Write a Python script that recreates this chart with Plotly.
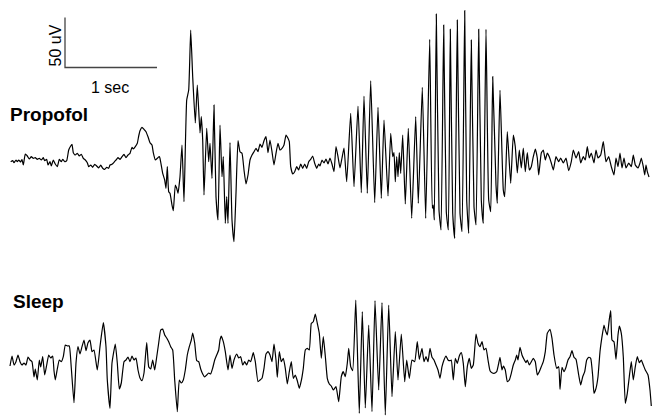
import plotly.graph_objects as go

FS = 92  # samples per second (sample index along the time axis)

# ---- Propofol trace: sample index and amplitude (uV) ----
propofol_t = [10.7, 12.7, 14, 16, 17.3, 18.7, 20.7, 22, 23.3, 25.3, 27.3, 29.3, 31.3, 33.3, 35.3, 37.3, 39.3, 41.3, 43.3, 44.7,
              46.7, 48, 50, 51.3, 53.3, 55.3, 57.3, 59.3, 61.3, 62.7, 64.7, 66.7, 68.7, 70.7, 72, 73.3, 75.3, 77.3, 79.3, 81.3,
              83.3, 85.3, 87.3, 88.7, 90.7, 92.7, 94.7, 96.7, 98.7, 100.7, 102.7, 104.7, 106.7, 108.7, 110, 112, 114, 116, 118, 120,
              122, 124, 126, 128, 130, 132, 133.3, 135.3, 137.3, 138.7, 140, 142, 144, 146, 148, 150, 152, 153.3, 155.3, 157.3,
              159.3, 160, 162.7, 164.7, 166, 167.3, 168.7, 170, 172, 173.3, 175.3, 176.7, 178, 180, 182, 184, 186.7, 188.7, 190.7, 192.7,
              195.3, 197.3, 200, 201.3, 202.7, 204, 206.7, 208.7, 210, 212, 214, 216, 218, 220, 222, 223.3, 225.3, 226.7, 228, 230,
              232, 234, 236, 238, 240, 242, 244, 246, 248, 250, 252, 254, 256, 258, 260, 262, 264, 266, 268, 270,
              272, 274, 276, 278, 280, 282, 284, 286, 288, 289.3, 290.7, 292.7, 294.7, 296.7, 298.7, 300.7, 302.7, 304.7, 306.7, 308.7,
              310.7, 312.7, 314.7, 316.7, 318.7, 320, 322, 324, 326, 328, 330, 332, 334, 336, 338, 340, 342, 344, 346.7, 350.7,
              354, 358, 361.3, 364, 367.3, 370.7, 374.7, 378, 381.3, 384, 388, 390.7, 392.7, 394, 395.3, 396.7, 398, 399.3, 400.7, 402.7,
              405.3, 408.3, 411.7, 415.7, 418.3, 422.3, 425.7, 429.7, 432.3, 433.3, 434.3, 436.3, 439, 441, 443.7, 446.3, 448.3, 450.3, 452.7, 454.7,
              457.3, 460, 462, 464.7, 466.7, 468.7, 471.3, 474, 476, 478.7, 481.3, 483.3, 486, 488.7, 490.7, 492.7, 496, 497.3, 500, 503.3,
              504.7, 507.3, 510.7, 513.3, 515.3, 517.3, 519.3, 521.3, 523.3, 525.3, 527.3, 529.3, 531.3, 533.3, 535.3, 537.3, 538.7, 541.3, 543.3, 545.3,
              547.3, 549.3, 551.3, 553.3, 556, 558.7, 560.7, 563.3, 566, 568.7, 571.3, 573.3, 576, 578.7, 580.7, 583.3, 585.3, 587.3, 589.3, 591.3,
              594, 596, 598, 600.7, 603.3, 606, 608.7, 611.3, 614, 616, 618, 620, 622, 624, 626, 628.7, 631.3, 633.3, 635.3, 638,
              640, 641.3, 643.3, 644.7, 646, 647.3, 649]
propofol_uv = [1.3, 2.3, 0.3, 3, 1.3, 3, 1, 3.7, -2, 9, 7, 4, 6.3, 4.7, 5.3, 3.7, 4.7, 3, 5.3, 2.3,
               3.7, -2, 1.3, -3, 3, -1, -3.7, 3.7, 1.3, 3.7, 1.3, 2.3, 13, 17, 18.7, 10.3, 8, 9.7, 7, 8.7,
               4.7, 3, 0.3, -3.7, -2, -4.3, -1.3, -3, -5, -2, -5.3, -6.3, -4.3, -5.3, -2, -1.3, 0.7, 3, 5.3, 3.7,
               6.3, 8.7, 5.3, 8, 9.7, 15.7, 14, 16.3, 19.7, 27, 32.3, 35.7, 33.7, 31.3, 26.3, 20.3, 18, 10.3, 3, 4.7,
               6.3, 4.7, -10.3, -17, -25.3, -3.7, -28.7, -30.3, -42, -47.7, -22, -25.3, -30.3, -13.7, 18, -38.7, 63, 73, 133, 86.3,
               40, 78, 30, 46.3, 23, -32, 34.7, 1.3, 19.7, -15.3, 58, -33.7, -57, 38, -13.7, 6.3, -60.3, -33.7, -60.3, 20.3,
               -57, -78.7, -30.3, 22.3, 11.3, 9.7, -7, -21, -12, 3, 8, 11.3, 14.7, 11.3, 19, 15.7, 22.3, 26.3, 10.3, 23,
               11.3, -2, 9.7, 19.7, 13, 14.7, 18, 28, 24.7, 21.3, -3.7, -11, -8.7, -3.7, -7, -1, -5.3, -1, -5.3, 1.3,
               3.7, 7, -0.3, -5.3, -1, -3, 3, 0, 4, -1, 5, -1, -8.7, 16.3, 6.3, -5, 5, 15, -18.7, 49.7,
               -23.7, 57, -29.7, 67, -30.3, 82.3, -39.7, 55.7, -35.3, 43, -33, 29.7, 6.3, 10.3, -18.7, 6.3, -13.7, 10.3, -10.3, 28,
               -41, 34.7, -55.3, 46.3, -40.3, 75.7, -55.3, 123.7, -45.3, -42, -57, 149, -47, -67, 138, -48.7, -67, 133.7, -50.3, -75.3,
               143, -50.3, -68.7, 152.3, -37, -70.3, 123, -43.7, -62, 133.7, -37, -60.3, 133.7, -37, -48.7, 86.3, -22, -40.3, 73, -27,
               -33.7, 31.3, -20.3, 28, 16.3, -10, 13, -5, 15, -8.7, 10.3, -7, -3.7, 6.3, 14, 5, -12, 10, 13, 3,
               10, 6.3, 0, -7, 6.3, 1.3, 5, 0, 5, -7.7, 1.3, 13, 5, 11.3, 0, 6.3, 3, 16.3, 5, 10,
               0, 13, 5, 8, 21.3, 1.3, 6.3, -3.7, -12, 5, -3.7, 10, -5, 5, -5, 0, -3.7, 8, -2, -5,
               0, 5, -3.7, -12, -2, -8.7, -14]

# ---- Sleep trace: sample index and amplitude (uV) ----
sleep_t = [10, 12, 14, 16, 18, 20, 22, 24, 26, 28, 30, 32, 34, 35.3, 37.3, 39.3, 40.7, 42.7, 44.7, 46.7,
           48.7, 50.7, 52.7, 54, 55.3, 57.3, 59.3, 61.3, 63.3, 65.3, 67.3, 69.3, 71.3, 74, 76, 78, 80, 82, 84, 86,
           88, 90, 92, 94, 97.3, 100, 103.3, 106, 107.3, 110, 112, 115.3, 117.3, 119.3, 121.3, 124, 126, 128, 130, 132,
           134, 136, 138, 140, 142, 144, 146.7, 148.7, 150.7, 152.7, 154.7, 156.7, 158.7, 160.7, 162.7, 164.7, 166.7, 168.7, 170.7, 172.7,
           174.7, 177.3, 179.3, 181.3, 183.3, 185.3, 187.3, 189.3, 191.3, 192.7, 194.7, 196.7, 198.7, 200.7, 202.7, 204.7, 206.7, 208.7, 210.7, 212.7,
           214.7, 216.7, 218.7, 220, 221.3, 223.3, 225.3, 228, 230, 232, 234, 236.7, 238.7, 240.7, 242.7, 244.7, 246.7, 248.7, 250.7, 253.3,
           255.3, 258, 260, 262, 264, 266, 268, 270, 272, 274, 276, 277.3, 279.3, 281.3, 283.3, 285.3, 287.3, 289.3, 291.3, 293.3,
           295.3, 297.3, 299.3, 301.3, 303.3, 305.3, 307.3, 309.3, 311.3, 313.3, 315.3, 317.3, 319.3, 321.3, 323.3, 325.3, 327.3, 329.3, 331.3, 333.3,
           336, 338.7, 341.3, 343.3, 345.3, 347.3, 348.7, 350.7, 352.7, 355.8, 359.3, 362.3, 365.3, 368.7, 372, 375, 378.7, 382, 385.3, 388.7,
           392, 395.3, 398, 401.3, 404.7, 406.7, 409.3, 412, 414.7, 417.3, 419.3, 422, 424, 426, 428, 430, 432, 434, 436, 438,
           440, 442, 444, 446, 448, 450, 451.3, 453.3, 455.3, 457.3, 459.3, 461.3, 463.3, 465.3, 467.3, 469.3, 471.3, 473.3, 476, 478,
           480, 482, 484, 486, 488, 490, 492, 494, 496.7, 498.7, 500, 502, 503.3, 505.3, 507.3, 509.3, 511.3, 513.3, 515.3, 516.7,
           518, 520, 522, 524, 526, 527.3, 529.3, 531.3, 533.3, 535.3, 537.3, 539.3, 541.3, 543.3, 545.3, 547.3, 550, 552, 554, 556.7,
           558.7, 560, 562, 564, 566, 568, 570, 572, 574, 576, 578.7, 580.7, 582.7, 584.7, 586.7, 588.7, 590.7, 592.7, 594, 596,
           598, 600, 602, 604, 605.3, 607.3, 609.3, 610.7, 612, 614, 616, 618, 619.3, 621.3, 623.3, 625.3, 627.3, 629.3, 631.3, 633.3,
           635.3, 637.3, 639.3, 641.3, 643.3, 645.3, 648, 650, 651.3]
sleep_uv = [-4, 6, -3, 0.3, 7, 0.3, -3, -1, -3, 5, 2, 0.3, -15, -7, -18, 2, -5, 5.3, -13, -3,
            7, 4, 6, -8.7, -18, -7, 2, 0.3, 5.3, 17, 16, 16, -6, -40.7, -1, 15.3, 8, 15.3, 22, 11.3,
            19.3, 22, 10.3, 12, -8, 15.3, 39.3, 15.3, -18, -46.3, -1, 18, -1, -27, -21, 0.3, 2, 5, 0.3, 6,
            2, 4, -8, -16, -18.7, -11, 19.3, -4.7, -7, 2, -8, 5, 19, 32, 33, 27, 24, 20.3, 15.3, 12,
            -18, -49.7, -18, -21, -18, -8, 7, 15.3, 22, 29, 19, 1.3, 0.3, -7, -12, -15, -13, -11, -12, -6,
            2, 7, 12, 22, 26, 20.3, 10.3, -8, 7, -6.3, 2, 8, 4, 5.3, -3, 0.3, -3, 2, 0.3, 9.3,
            0.3, -19.7, -18, -16.3, -6.3, 8, 10.3, 7, 0.3, 18, 2, -15.3, 10.3, 0.3, 3.7, -6.3, -22, -9.7, 0.3, -16.3,
            -13, -18.7, -26.3, -18.7, -6.3, 12, 13.7, 12, 38.7, 40.3, 48, 38.7, 28.7, 3.7, 25.3, 6, -16.3, -22, -24, -28,
            -24.7, -39.7, -14.7, -9.7, -14.7, -1.3, 13.7, -4.7, -8.7, 62, -51.3, 50.3, -46, 37, -49.7, 61.3, -28, 59.3, -53, 57,
            -34.7, 30.3, -18, 28, -19.7, 2, -16.3, 2, 0.3, 20.3, 2.7, 13.7, 0.3, 5.3, 0.3, 13.7, 4.7, 2, -3, -8,
            -16.3, -4.7, 2, 6, 2, 1.3, 2, -18, 3.7, -1.3, 6, 9.3, -1.3, -24.7, -4.7, 3.7, -6.3, -3, 28, 18.7,
            15.3, 20.3, 12, 13.7, 2, -8.7, -10.7, -11.3, -9.7, -1.3, 4.7, -8, -4, -8, -19.7, -18, -11.3, -3, 2, 7,
            2, 14.7, 7, 2.7, -0.7, 2, -3, 0.3, 3.7, 0.3, -13, -9.7, -4.7, 0.3, 10.3, 28.7, 32.7, 23.7, 7, -6.3,
            -4.7, -27.3, -5.3, -9.7, -5.3, 2, 5.3, 11.3, 4.7, 2.7, -13, -23, -14.7, -9.7, 2, 4.7, 3.7, -14, -31.3, -26.3,
            -14.7, 10.3, 25.3, 37, 32, 27, 42.7, 51.3, 22, 20.3, 2.7, 27, 36, 28.7, 5.3, -41.3, -31.3, -14.7, 0.3, -18,
            -4.7, 5.3, -0.7, 2, -3, -8, -13, -28, -44]

# ---- labels and scale bar ----
labels = ["Propofol", "Sleep"]
scale_uv = 50      # vertical scale bar (uV)
scale_sec = 1      # horizontal scale bar (s)
scale_label_v = "50 uV"
scale_label_h = "1 sec"

# layout offsets (display baseline of each trace, in uV units of the shared axis)
OFF_PROP = 255
OFF_SLEEP = 56
BAR_X0 = 65
BAR_Y0 = 350.5

trace_line = dict(color="black", width=1.2, shape="spline", smoothing=0.4)

fig = go.Figure()
fig.add_trace(go.Scatter(x=propofol_t, y=[v + OFF_PROP for v in propofol_uv], mode="lines",
                         line=trace_line, hoverinfo="skip"))
fig.add_trace(go.Scatter(x=sleep_t, y=[v + OFF_SLEEP for v in sleep_uv], mode="lines",
                         line=trace_line, hoverinfo="skip"))
fig.add_trace(go.Scatter(x=[BAR_X0, BAR_X0, BAR_X0 + scale_sec * FS],
                         y=[BAR_Y0 + scale_uv, BAR_Y0, BAR_Y0],
                         mode="lines", line=dict(color="#444444", width=1.3), hoverinfo="skip"))

font_reg = dict(family="Liberation Sans, Arial, Helvetica, sans-serif", size=16, color="black")
font_bold = dict(family="Liberation Sans, Arial, Helvetica, sans-serif", size=19, color="black")

fig.add_annotation(x=BAR_X0 - 10, y=BAR_Y0 + scale_uv / 2 - 3, text=scale_label_v, textangle=-90,
                   showarrow=False, font=font_reg, xanchor="center", yanchor="middle")
fig.add_annotation(x=BAR_X0 + scale_sec * FS / 2 - 1, y=BAR_Y0 - 20, text=scale_label_h,
                   showarrow=False, font=font_reg, xanchor="center", yanchor="middle")
fig.add_annotation(x=8, y=304, text="<b>%s</b>" % labels[0], showarrow=False, font=font_bold,
                   xanchor="left", yanchor="middle")
fig.add_annotation(x=11, y=117, text="<b>%s</b>" % labels[1], showarrow=False, font=font_bold,
                   xanchor="left", yanchor="middle")

fig.update_layout(
    width=653, height=418, autosize=False,
    margin=dict(l=0, r=0, t=0, b=0),
    paper_bgcolor="white", plot_bgcolor="white",
    showlegend=False,
    xaxis=dict(range=[0, 653], visible=False, fixedrange=True),
    yaxis=dict(range=[0, 418], visible=False, fixedrange=True),
)

fig.write_html("out.html", config={"displayModeBar": False},
               post_script="document.body.style.margin='0';document.body.style.overflow='hidden';")
